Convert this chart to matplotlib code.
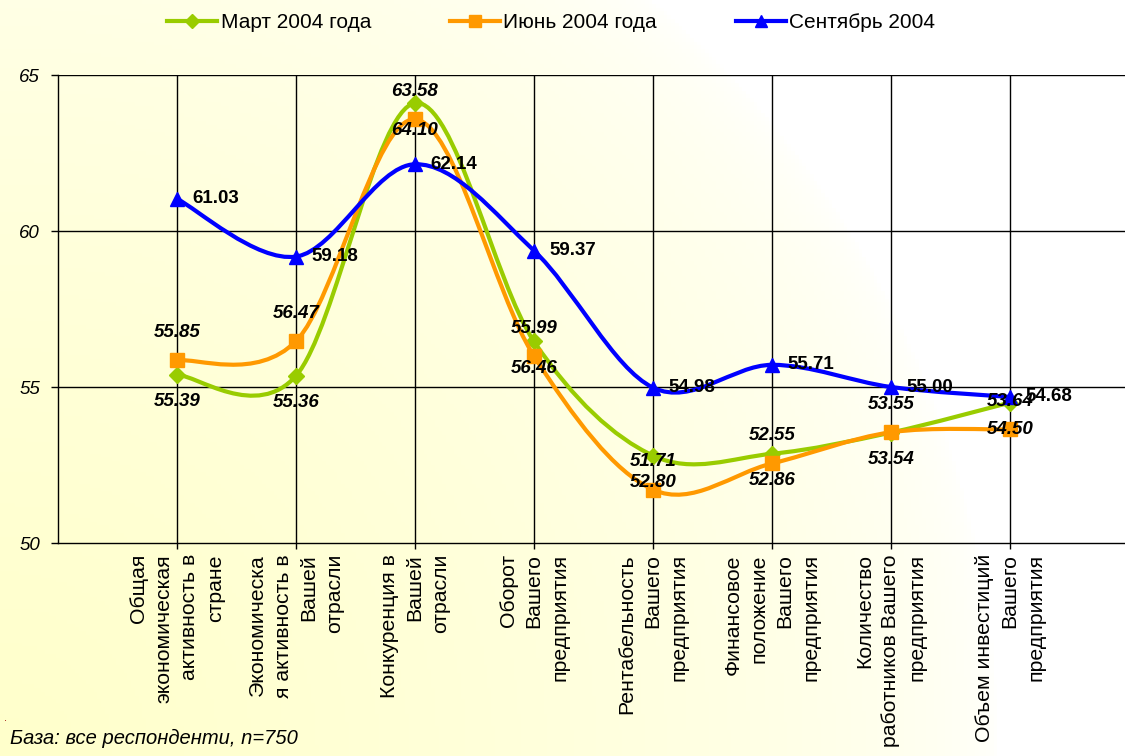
import numpy as np
import matplotlib.pyplot as plt
from matplotlib.path import Path
from matplotlib.patches import PathPatch
from matplotlib.lines import Line2D

plt.rcParams['font.family'] = ['Liberation Sans', 'DejaVu Sans']

categories = [
    "Общая\nэкономическая\nактивность в\nстране",
    "Экономическа\nя активность в\nВашей\nотрасли",
    "Конкуренция в\nВашей\nотрасли",
    "Оборот\nВашего\nпредприятия",
    "Рентабельность\nВашего\nпредприятия",
    "Финансовое\nположение\nВашего\nпредприятия",
    "Количество\nработников Вашего\nпредприятия",
    "Объем инвестиций\nВашего\nпредприятия",
]
mart = [55.39, 55.36, 64.10, 56.46, 52.80, 52.86, 53.54, 54.50]
iyun = [55.85, 56.47, 63.58, 55.99, 51.71, 52.55, 53.55, 53.64]
sent = [61.03, 59.18, 62.14, 59.37, 54.98, 55.71, 55.00, 54.68]
names = ["Март 2004 года", "Июнь 2004 года", "Сентябрь 2004"]
colors = ["#99CC00", "#FF9900", "#0000FF"]
markers = ["D", "s", "^"]
msizes = [8, 9.5, 10]
yticks = [50, 55, 60, 65]


def smooth_path(xs, ys):
    # excel-like smoothed line (catmull-rom as bezier)
    pts = list(zip(xs, ys))
    n = len(pts)
    verts = [pts[0]]
    codes = [Path.MOVETO]
    for i in range(n - 1):
        p0 = pts[i - 1] if i > 0 else pts[i]
        p1 = pts[i]
        p2 = pts[i + 1]
        p3 = pts[i + 2] if i + 2 < n else pts[i + 1]
        c1 = (p1[0] + (p2[0] - p0[0]) / 6, p1[1] + (p2[1] - p0[1]) / 6)
        c2 = (p2[0] - (p3[0] - p1[0]) / 6, p2[1] - (p3[1] - p1[1]) / 6)
        verts += [c1, c2, p2]
        codes += [Path.CURVE4] * 3
    return Path(verts, codes)


fig = plt.figure(figsize=(11.25, 7.56), dpi=100)

# background gradient (yellow bottom-left -> white)
bg = fig.add_axes([0, 0, 1, 1], zorder=-10)
gx, gy = np.meshgrid(np.linspace(0, 1125, 300), np.linspace(0, 756, 200))
d = np.sqrt(gx ** 2 + (756 - gy) ** 2)
w = np.clip(1 - d / 1000, 0, 1) ** 0.5
img = np.ones((200, 300, 3))
img[..., 2] = 1 - w * (52 / 255)
bg.imshow(img, extent=[0, 1, 0, 1], aspect='auto', origin='upper')
bg.axis('off')

ax = fig.add_axes([58 / 1125, 213 / 756, 1071 / 1125, 468 / 756])
ax.patch.set_alpha(0)
x = np.arange(1, len(categories) + 1)

series = [mart, iyun, sent]
for k, vals in enumerate(series):
    ax.add_patch(PathPatch(smooth_path(x, vals), fill=False, edgecolor=colors[k],
                           lw=3, zorder=3 + k, capstyle='round', joinstyle='round'))
    ax.plot(x, vals, linestyle='none', marker=markers[k], ms=msizes[k],
            color=colors[k], zorder=3 + k)

for xi, v in zip(x, mart):
    ax.annotate(f"{v:.2f}", (xi, v), xytext=(0, -27), textcoords='offset pixels',
                ha='center', va='center', fontsize=13.5, fontweight='bold',
                style='italic', zorder=10)
for xi, v in zip(x, iyun):
    ax.annotate(f"{v:.2f}", (xi, v), xytext=(0, 28), textcoords='offset pixels',
                ha='center', va='center', fontsize=13.5, fontweight='bold',
                style='italic', zorder=10)
for xi, v in zip(x, sent):
    ax.annotate(f"{v:.2f}", (xi, v), xytext=(15, 0), textcoords='offset pixels',
                ha='left', va='center', fontsize=13.5, fontweight='bold', zorder=10)

ax.set_xlim(0, 9)
ax.set_ylim(50, 65)
ax.set_yticks(yticks)
ax.set_yticklabels([str(t) for t in yticks], fontsize=13.5, style='italic')
ax.set_xticks(x)
ax.set_xticklabels(categories, rotation=90, ha='center', va='top',
                   multialignment='right', fontsize=15.3, linespacing=1.45)
ax.tick_params(axis='y', direction='out', length=5, width=1, pad=8)
ax.tick_params(axis='x', direction='out', length=4, width=1, pad=4)
for yv in [55, 60, 65]:
    ax.axhline(yv, color='black', lw=1, zorder=1)
for xi in x:
    ax.axvline(xi, color='black', lw=1, zorder=1)
for s in ['top', 'right']:
    ax.spines[s].set_visible(False)
ax.spines['left'].set_linewidth(1)
ax.spines['bottom'].set_linewidth(1)

handles = [Line2D([], [], color=colors[k], lw=3, marker=markers[k], ms=msizes[k] * 0.9)
           for k in range(3)]
fig.legend(handles, names, loc='center', bbox_to_anchor=(0.49, 1 - 23 / 756), ncol=3,
           frameon=False, fontsize=15, handlelength=2.4, handletextpad=0.15,
           columnspacing=3.8)

fig.text(10 / 1125, 1 - 738 / 756, "База: все респонденти, n=750", fontsize=14.5,
         style='italic', va='center', ha='left')
fig.text(4 / 1125, 1 - 718 / 756, ".", fontsize=8, color='#990000', va='center')

fig.savefig("out.png", dpi=100)
